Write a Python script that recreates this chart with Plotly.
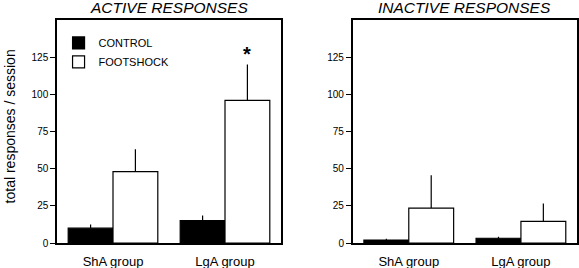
import plotly.graph_objects as go

groups = ["ShA group", "LgA group"]
series_names = ["CONTROL", "FOOTSHOCK"]

active_control = [10, 15]
active_control_err = [2.5, 3.5]
active_footshock = [48, 96]
active_footshock_err = [15, 24]

inactive_control = [2, 3.2]
inactive_control_err = [0.8, 1.0]
inactive_footshock = [23.5, 14.5]
inactive_footshock_err = [22, 12]

y_ticks = [0, 25, 50, 75, 100, 125]
star_value = 127

FONT = "Liberation Sans, Arial, sans-serif"

fig = go.Figure()

def add_bars(vals, errs, name, color, xa, ya, show):
    fig.add_trace(go.Bar(
        x=groups, y=vals, name=name,
        marker=dict(color=color, line=dict(color="black", width=1.2)),
        error_y=dict(type="data", array=errs, arrayminus=[0]*len(errs), symmetric=False,
                     color="black", thickness=1.2, width=0),
        xaxis=xa, yaxis=ya, showlegend=show, legendgroup=name,
    ))

add_bars(active_control, active_control_err, series_names[0], "black", "x", "y", True)
add_bars(active_footshock, active_footshock_err, series_names[1], "white", "x", "y", True)
add_bars(inactive_control, inactive_control_err, series_names[0], "black", "x2", "y2", False)
add_bars(inactive_footshock, inactive_footshock_err, series_names[1], "white", "x2", "y2", False)

W, H = 579, 268
ml, mr, mt, mb = 57, 2, 20, 25
pw = W - ml - mr
ph = H - mt - mb
d1 = [0, 224 / pw]
d2 = [(352.7 - ml) / pw, 1]

xcommon = dict(range=[-0.5, 1.5], showline=True, linecolor="black", linewidth=1.5, mirror=True,
               ticks="", showgrid=False, zeroline=False, ticklabelstandoff=6, automargin=False,
               tickfont=dict(family=FONT, size=13, color="black"))
ycommon = dict(range=[0, 150], tickvals=y_ticks, showline=True, linecolor="black", linewidth=1.5,
               mirror=True, ticks="outside", ticklen=5, tickcolor="black", tickwidth=1,
               showgrid=False, zeroline=False, automargin=False,
               tickfont=dict(family=FONT, size=10, color="black"))

fig.update_layout(
    width=W, height=H,
    margin=dict(l=ml, r=mr, t=mt, b=mb),
    paper_bgcolor="white", plot_bgcolor="white",
    barmode="group", bargap=0.2, bargroupgap=0,
    xaxis=dict(domain=d1, anchor="y", **xcommon),
    yaxis=dict(domain=[0, 1], anchor="x", **ycommon),
    xaxis2=dict(domain=d2, anchor="y2", **xcommon),
    yaxis2=dict(domain=[0, 1], anchor="x2", **ycommon),
    legend=dict(x=0.003, y=0.962, xanchor="left", yanchor="top", bgcolor="rgba(0,0,0,0)",
                font=dict(family=FONT, size=11, color="black"), tracegroupgap=0,
                itemwidth=30),
    showlegend=True,
)

title_y = 1 + 13 / ph
fig.add_annotation(text="ACTIVE RESPONSES", xref="paper", yref="paper",
                   x=(d1[0] + d1[1]) / 2, y=title_y, xanchor="center", yanchor="middle",
                   showarrow=False, font=dict(family=FONT, size=15.5, color="black", style="italic"))
fig.add_annotation(text="INACTIVE RESPONSES", xref="paper", yref="paper",
                   x=(d2[0] + d2[1]) / 2, y=title_y, xanchor="center", yanchor="middle",
                   showarrow=False, font=dict(family=FONT, size=15.5, color="black", style="italic"))

fig.add_annotation(text="total responses / session", xref="paper", yref="paper",
                   x=(10 - ml) / pw, y=(243.3 - 126.7) / ph, textangle=-90, showarrow=False,
                   xanchor="center", yanchor="middle",
                   font=dict(family=FONT, size=14, color="black"))

fig.add_annotation(text="<b>*</b>", xref="x", yref="y", x=1.2, y=star_value,
                   showarrow=False, yanchor="middle", font=dict(family=FONT, size=20, color="black"))

fig.write_html("out.html", config={"displayModeBar": False},
               post_script="document.body.style.margin='0';")
